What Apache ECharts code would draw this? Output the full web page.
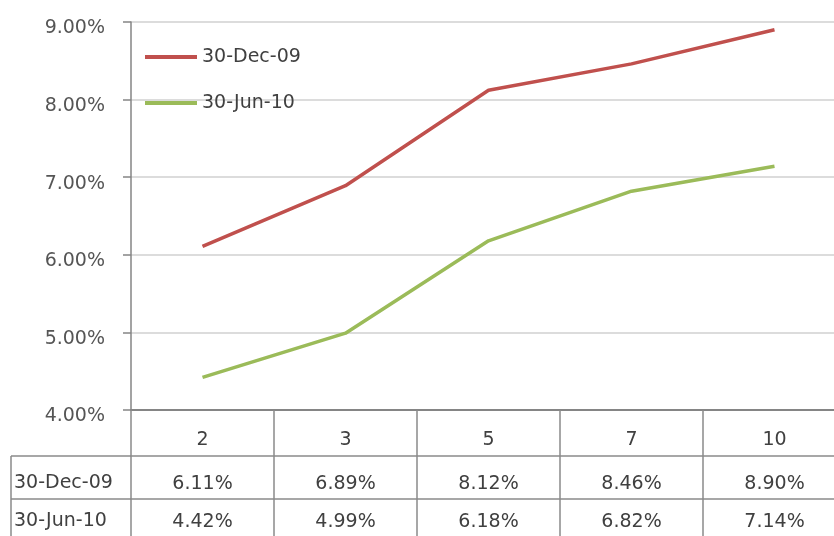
<!DOCTYPE html>
<html>
<head>
<meta charset="utf-8">
<script src="https://cdn.jsdelivr.net/npm/echarts@6/dist/echarts.min.js"></script>
<style>
  html, body { margin: 0; padding: 0; background: #ffffff; }
  #chart { width: 834px; height: 536px; }
</style>
</head>
<body>
<div id="chart"></div>
<script>
// Maturities (years) along the curve
var maturities = ['2', '3', '5', '7', '10'];
// Yield curve observation dates
var seriesNames = ['30-Dec-09', '30-Jun-10'];
// Yields in percent
var yieldsDec09 = [6.11, 6.89, 8.12, 8.46, 8.90];
var yieldsJun10 = [4.42, 4.99, 6.18, 6.82, 7.14];
// Value axis range and step (percent)
var yMin = 4, yMax = 9, yStep = 1;

var FONT = 'DejaVu Sans';
var FSIZE = 19;
var TEXT = '#404040';
var RULE = '#8a8a8a';

function pct(v) { return v.toFixed(2) + '%'; }

var chart = echarts.init(document.getElementById('chart'), null, { renderer: 'canvas' });

function tableAxis(values, offset, margin) {
  return {
    type: 'category',
    gridIndex: 0,
    position: 'bottom',
    offset: offset,
    data: maturities,
    boundaryGap: true,
    axisLine: { show: true, lineStyle: { color: RULE, width: 1.5 } },
    axisTick: { show: false },
    splitLine: { show: false },
    axisLabel: {
      margin: margin,
      fontFamily: FONT, fontSize: FSIZE, color: TEXT,
      formatter: function (v, i) { return pct(values[i]); }
    }
  };
}

var option = {
  animation: false,
  backgroundColor: '#ffffff',
  grid: { left: 131, top: 22, width: 715, bottom: 126, containLabel: false, outerBoundsMode: 'none' },
  legend: {
    orient: 'vertical',
    left: 145, top: 46,
    padding: 0,
    icon: 'rect',
    itemWidth: 52, itemHeight: 4,
    itemGap: 24,
    textStyle: { fontFamily: FONT, fontSize: FSIZE, color: TEXT, lineHeight: 22 },
    data: seriesNames
  },
  xAxis: [
    {
      type: 'category',
      gridIndex: 0,
      position: 'bottom',
      data: maturities,
      boundaryGap: true,
      axisLine: { show: true, lineStyle: { color: '#858585', width: 2 } },
      axisTick: { show: true, inside: false, length: 126, lineStyle: { color: RULE, width: 1.5 } },
      splitLine: { show: false },
      axisLabel: { margin: 21, fontFamily: FONT, fontSize: FSIZE, color: TEXT }
    },
    tableAxis(yieldsDec09, 46, 19),
    tableAxis(yieldsJun10, 89, 14)
  ],
  yAxis: {
    type: 'value',
    min: yMin, max: yMax, interval: yStep,
    axisLine: { show: true, lineStyle: { color: '#858585', width: 1.5 } },
    axisTick: { show: true, length: 8, lineStyle: { color: '#858585', width: 1.5 } },
    splitLine: { show: true, lineStyle: { color: '#dcdcdc', width: 2 } },
    axisLabel: {
      margin: 26, fontFamily: FONT, fontSize: FSIZE, color: '#555555',
      verticalAlign: 'top',
      padding: [-3, 0, 0, 0],
      formatter: function (v) { return pct(v); }
    }
  },
  series: [
    {
      name: seriesNames[0], type: 'line', xAxisIndex: 0,
      data: yieldsDec09, showSymbol: false, symbol: 'none',
      lineStyle: { color: '#c0504d', width: 3.5 }, itemStyle: { color: '#c0504d' }
    },
    {
      name: seriesNames[1], type: 'line', xAxisIndex: 0,
      data: yieldsJun10, showSymbol: false, symbol: 'none',
      lineStyle: { color: '#9bbb59', width: 3.5 }, itemStyle: { color: '#9bbb59' }
    }
  ]
};

chart.setOption(option);

// Row-header column of the data table, placed against the grid's left edge
function drawRowHeaders() {
  var g = chart.getModel().getComponent('grid', 0).coordinateSystem.getRect();
  var left = 11;
  var right = g.x;
  var base = g.y + g.height;
  var rowTops = [base + 46, base + 89];
  var textY = [base + 73, base + 111];
  var bottom = 540;
  var els = [];
  els.push({ type: 'line', shape: { x1: left, y1: rowTops[0], x2: left, y2: bottom },
             style: { stroke: RULE, lineWidth: 1.5 }, silent: true });
  rowTops.forEach(function (y, i) {
    els.push({ type: 'line', shape: { x1: left, y1: y, x2: right, y2: y },
               style: { stroke: RULE, lineWidth: 1.5 }, silent: true });
    els.push({ type: 'text', x: left + 3, y: textY[i],
               style: { text: seriesNames[i], fontFamily: FONT, fontSize: FSIZE, fill: TEXT,
                        verticalAlign: 'middle', align: 'left' }, silent: true });
  });
  chart.setOption({ graphic: { elements: els } });
}
drawRowHeaders();
</script>
</body>
</html>
